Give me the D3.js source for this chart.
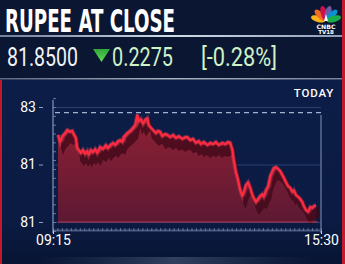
<!DOCTYPE html>
<html>
<head>
<meta charset="utf-8">
<script src="https://cdn.jsdelivr.net/npm/d3@7"></script>
<style>
  body { margin: 0; background: #0a1632; overflow: hidden; }
  svg { display: block; }
</style>
</head>
<body>
<svg id="chart"></svg>
<script>
// minutes after the 09:15 open
const minutes = [7,10,13,17,20,24,27,29,32,34, 36,39,42,45,48,50,53,56,59,62,
  66,70,74,77,80,84,87,91,94,97, 99,104,108,112,115,118,120,123,126,129,
  132,134,137,140,144,147,150,153,157,160, 164,168,172,176,181,185,188,192,196,200,
  204,207,211,216,220,224,228,232,237,241, 245,248,251,253,256,259,262,265,267,270,
  273,276,279,281,284,287,290,293,295,298, 301,304,307,309,312,315,318,321,323,326,
  329,332,335,337,340,343,346,349,351,354, 357,360,363,365,368];
// USD/INR rate
const rates = [82.027,82.011,82.024,82.031,82.038,82.034,82.036,82.029,82.020,81.997,
  81.993,81.986,81.993,81.984,81.991,81.982,81.993,81.988,81.995,81.986,
  82.000,81.995,82.004,81.997,82.004,82.009,82.004,82.013,82.015,82.011,
  82.022,82.031,82.036,82.043,82.049,82.072,82.058,82.063,82.052,82.061,
  82.065,82.049,82.043,82.038,82.031,82.036,82.034,82.024,82.029,82.027,
  82.022,82.027,82.020,82.024,82.018,82.022,82.022,82.015,82.018,82.009,
  82.013,82.006,82.011,82.004,82.009,82.006,82.011,82.004,82.009,82.006,
  82.011,82.009,81.993,81.970,81.943,81.925,81.902,81.889,81.898,81.914,
  81.920,81.907,81.891,81.884,81.875,81.882,81.889,81.893,81.887,81.902,
  81.911,81.934,81.945,81.952,81.954,81.950,81.945,81.936,81.930,81.920,
  81.911,81.907,81.898,81.902,81.891,81.887,81.882,81.875,81.866,81.857,
  81.853,81.864,81.862,81.866,81.868];

const yTickValues = [81.83, 81.96, 82.09];
const yTickLabels = ['81', '81', '83'];
const xTickValues = [0, 375];
const xTickLabels = ['09:15', '15:30'];
const prevClose = 82.0775;

const title = 'RUPEE AT CLOSE';
const closeText = '81.8500';
const changeText = '0.2275';
const pctText = '[-0.28%]';

const W = 345, H = 264;
const svg = d3.select('#chart').attr('width', W).attr('height', H);
const defs = svg.append('defs');

const grad = (id, stops, x2 = 0, y2 = 1) => {
  const g = defs.append('linearGradient').attr('id', id)
    .attr('x1', 0).attr('y1', 0).attr('x2', x2).attr('y2', y2);
  stops.forEach(s => g.append('stop').attr('offset', s[0]).attr('stop-color', s[1])
    .attr('stop-opacity', s[2] === undefined ? 1 : s[2]));
};
grad('panel', [[0, '#0c1d47'], [0.75, '#0b1b43'], [1, '#081533']]);
grad('areaFill', [[0, '#8f2034'], [1, '#5d1933']]);
grad('sep', [[0, '#6f7f9c'], [0.5, '#d2dbe8'], [1, '#8e9cb6']], 1, 0);
grad('glow', [[0, '#5a6b8e', 0], [0.5, '#7f90b0', 0.7], [1, '#5a6b8e', 0]], 1, 0);
grad('tri', [[0, '#2fa53a'], [1, '#5fdc55']]);

// background
svg.append('rect').attr('width', W).attr('height', H).attr('fill', '#0a1632');
svg.append('rect').attr('y', 80).attr('width', W).attr('height', H - 80).attr('fill', 'url(#panel)');

// separators
svg.append('rect').attr('x', 0).attr('y', 35).attr('width', W).attr('height', 2).attr('fill', 'url(#sep)');
svg.append('rect').attr('x', 0).attr('y', 78).attr('width', W).attr('height', 1.5).attr('fill', 'url(#sep)').attr('opacity', 0.8);
svg.append('rect').attr('x', 35).attr('y', 257).attr('width', 280).attr('height', 7).attr('fill', 'url(#glow)').attr('opacity', 0.5);

// red frame edges
svg.append('rect').attr('x', 0).attr('y', 80).attr('width', 2).attr('height', H - 80).attr('fill', '#c4182c');
svg.append('rect').attr('x', 342).attr('y', 0).attr('width', 3).attr('height', H).attr('fill', '#c4182c');

// header texts
svg.append('text').attr('x', 5).attr('y', 32).text(title)
  .attr('font-family', 'Liberation Sans Narrow, DejaVu Sans Condensed, Roboto, sans-serif')
  .attr('font-weight', 700).attr('font-size', 32).attr('fill', '#ffffff')
  .attr('textLength', 170).attr('lengthAdjust', 'spacingAndGlyphs');

const rowFont = 'Roboto, Open Sans, sans-serif';
svg.append('text').attr('x', 7).attr('y', 66).text(closeText)
  .attr('font-family', rowFont).attr('font-size', 25).attr('fill', '#f2f4f8')
  .attr('textLength', 71).attr('lengthAdjust', 'spacingAndGlyphs');
svg.append('path').attr('d', 'M93,49 L110,49 L101.5,62 Z').attr('fill', 'url(#tri)');
svg.append('text').attr('x', 112).attr('y', 66).text(changeText)
  .attr('font-family', rowFont).attr('font-size', 25).attr('fill', '#cdf2c6')
  .attr('textLength', 61).attr('lengthAdjust', 'spacingAndGlyphs');
svg.append('text').attr('x', 201).attr('y', 66).text(pctText)
  .attr('font-family', rowFont).attr('font-size', 25).attr('fill', '#cdf2c6')
  .attr('textLength', 76).attr('lengthAdjust', 'spacingAndGlyphs');

// logo
const logo = svg.append('g').attr('transform', 'translate(326,21)');
const feathers = ['#f9b21b', '#f26b22', '#d0104c', '#6b5ba8', '#0a8fd2', '#19ad4b'];
feathers.forEach((c, i) => {
  const a = -75 + i * 30;
  logo.append('ellipse').attr('cx', 0).attr('cy', -8).attr('rx', 3.2).attr('ry', 7.5)
    .attr('fill', c).attr('transform', `rotate(${a})`);
});
logo.append('path').attr('d', 'M-2,0 L0,-7 L2,0 Z').attr('fill', '#ffffff');
svg.append('text').attr('x', 326).attr('y', 28.5).attr('text-anchor', 'middle').text('CNBC')
  .attr('font-family', 'DejaVu Sans, sans-serif').attr('font-weight', 700).attr('font-size', 6).attr('fill', '#fff')
  .attr('textLength', 19).attr('lengthAdjust', 'spacingAndGlyphs');
svg.append('text').attr('x', 326).attr('y', 34).attr('text-anchor', 'middle').text('TV18')
  .attr('font-family', 'DejaVu Sans, sans-serif').attr('font-weight', 700).attr('font-size', 5.5).attr('fill', '#fff');

svg.append('text').attr('x', 334).attr('y', 96.5).attr('text-anchor', 'end').text('TODAY')
  .attr('font-family', rowFont).attr('font-weight', 500).attr('font-size', 11.5)
  .attr('letter-spacing', 0.8).attr('fill', '#ffffff');

// scales
const x = d3.scaleLinear().domain([0, 375]).range([53, 321]);
const y = d3.scaleLinear().domain([81.83, 82.09]).range([222, 107]);
const data = minutes.map((m, i) => ({ m, v: rates[i] }));

// grid
const grid = svg.append('g').attr('transform', 'translate(53,0)')
  .call(d3.axisRight(y).tickValues(yTickValues).tickSize(268).tickFormat(''));
grid.select('.domain').remove();
grid.selectAll('line').attr('stroke', '#2a406e').attr('stroke-width', 1);

// minor ticks on the vertical axis
const minorY = svg.append('g').attr('transform', 'translate(53,0)')
  .call(d3.axisRight(y).tickValues(d3.range(81.81, 82.13, 0.02)).tickSize(3).tickFormat(''));
minorY.select('.domain').remove();
minorY.selectAll('line').attr('stroke', '#6679a0');

// minor ticks on the time axis
const minorX = svg.append('g').attr('transform', 'translate(0,228)')
  .call(d3.axisBottom(x).tickValues(d3.range(0, 376, 6.25)).tickSize(3).tickFormat(''));
minorX.select('.domain').remove();
minorX.selectAll('line').attr('stroke', '#8597bb').attr('opacity', 0.6);
svg.append('line').attr('x1', 53).attr('x2', 321).attr('y1', 230.5).attr('y2', 230.5)
  .attr('stroke', '#8fa2c6').attr('stroke-width', 2).attr('opacity', 0.45);

// axis lines
svg.append('line').attr('x1', 53).attr('x2', 53).attr('y1', 100).attr('y2', 233)
  .attr('stroke', '#8395ba').attr('stroke-width', 1.2);
svg.append('line').attr('x1', 321).attr('x2', 321).attr('y1', 115).attr('y2', 233)
  .attr('stroke', '#8395ba').attr('stroke-width', 1);

// previous close
svg.append('line').attr('x1', 55).attr('x2', 321).attr('y1', y(prevClose)).attr('y2', y(prevClose))
  .attr('stroke', '#a3b3cf').attr('stroke-width', 1.2).attr('stroke-dasharray', '5,4');

// y axis labels
const yAxisG = svg.append('g').attr('transform', 'translate(43,0)')
  .call(d3.axisLeft(y).tickValues(yTickValues).tickSize(4).tickPadding(3)
    .tickFormat((d, i) => yTickLabels[i]));
yAxisG.select('.domain').remove();
yAxisG.selectAll('line').attr('stroke', '#8ea0c2');
yAxisG.selectAll('text').attr('fill', '#ffffff').attr('font-size', 14)
  .attr('font-family', rowFont);

// x axis labels
const xAxisG = svg.append('g').attr('transform', 'translate(0,231)')
  .call(d3.axisBottom(x).tickValues(xTickValues).tickSize(3).tickPadding(1)
    .tickFormat((d, i) => xTickLabels[i]));
xAxisG.select('.domain').remove();
xAxisG.selectAll('line').attr('stroke', '#c8d2e4');
xAxisG.selectAll('text').attr('fill', '#ffffff').attr('font-size', 14)
  .attr('font-family', rowFont);

// area
const area = d3.area().x(d => x(d.m)).y0(y(81.83)).y1(d => y(d.v));
svg.append('path').datum(data).attr('d', area).attr('fill', 'url(#areaFill)');

// shadow band below the line
const shadow = d3.area().x(d => x(d.m) + 3).y0(d => y(d.v) + 13).y1(d => y(d.v) + 1);
svg.append('path').datum(data).attr('d', shadow).attr('fill', '#3e0818').attr('opacity', 0.75);

svg.append('line').attr('x1', x(minutes[0])).attr('x2', x(minutes[minutes.length - 1]) + 2)
  .attr('y1', y(81.83)).attr('y2', y(81.83)).attr('stroke', '#b8304a').attr('stroke-width', 1);

// line
const line = d3.line().x(d => x(d.m)).y(d => y(d.v));
svg.append('path').datum(data).attr('d', line).attr('fill', 'none')
  .attr('stroke', '#ff4a5c').attr('stroke-width', 4).attr('opacity', 0.35);
svg.append('path').datum(data).attr('d', line).attr('fill', 'none')
  .attr('stroke', '#ff2a40').attr('stroke-width', 2.2).attr('stroke-linejoin', 'round');
</script>
</body>
</html>
